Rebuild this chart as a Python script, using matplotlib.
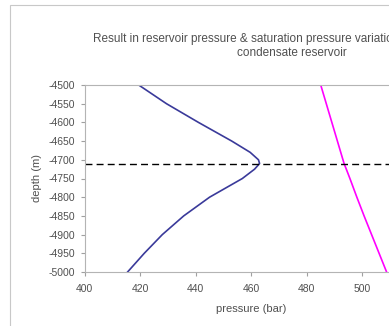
import matplotlib
matplotlib.use('Agg')
import matplotlib.pyplot as plt
from matplotlib.patches import Rectangle

plt.rcParams['font.family'] = ['Liberation Sans', 'DejaVu Sans']
plt.rcParams['axes.unicode_minus'] = False

# depth (m) and pressures (bar)
depth = [-4500, -4550, -4600, -4650, -4680, -4700, -4710, -4725, -4750, -4800,
         -4850, -4900, -4950, -5000]
p_res = [419.5, 429.5, 441, 453, 459.6, 462.6, 463, 461.2, 456.8, 445,
         435.7, 428, 421.5, 415.5]
p_sat = [485, 487, 489, 491, 492.2, 493, 493.4, 494.2, 495.5, 498,
         500.6, 503.3, 506, 508.7]
dash_depth = -4710

title = ('Result in reservoir pressure & saturation pressure variation with depth in gas\n'
         'condensate reservoir')
xticks = [400, 420, 440, 460, 480, 500, 520]
yticks = list(range(-5000, -4499, 50))

fig = plt.figure(figsize=(3.89, 3.26), dpi=100)
W, H = 389, 326

# chart area border (runs off the right/bottom of the image)
fig.patches.append(Rectangle((10 / W, -0.1), 1.2, 1 - 5 / H + 0.1, transform=fig.transFigure,
                             fill=False, edgecolor='#c8c8c8', lw=0.8))

ax = fig.add_axes([84.5 / W, 1 - 272 / H, (418 - 84.5) / W, (272 - 85) / H])
ax.plot(p_res, depth, color='#3a3a9a', lw=1.2)
ax.plot(p_sat, depth, color='#ff00ff', lw=1.2)
ax.axhline(dash_depth, color='black', lw=1.0, ls=(0, (5, 3)))

ax.set_xlim(400, 520)
ax.set_ylim(-5000, -4500)
ax.set_xticks(xticks)
ax.set_yticks(yticks)
ax.tick_params(labelsize=7.5, colors='#a0a0a0', labelcolor='#505050', length=3, width=0.8)
ax.tick_params(axis='x', pad=6)
for s in ax.spines.values():
    s.set_color('#b4b4b4')
    s.set_linewidth(0.8)
ax.set_xlabel('pressure (bar)', fontsize=8, color='#505050', labelpad=7)
ax.set_ylabel('depth (m)', fontsize=8, color='#505050', labelpad=5)

fig.text(292 / W, 1 - 46 / H, title, ha='center', va='center', fontsize=8.5,
         color='#505050', linespacing=1.3)

fig.savefig('out.png', dpi=100)
